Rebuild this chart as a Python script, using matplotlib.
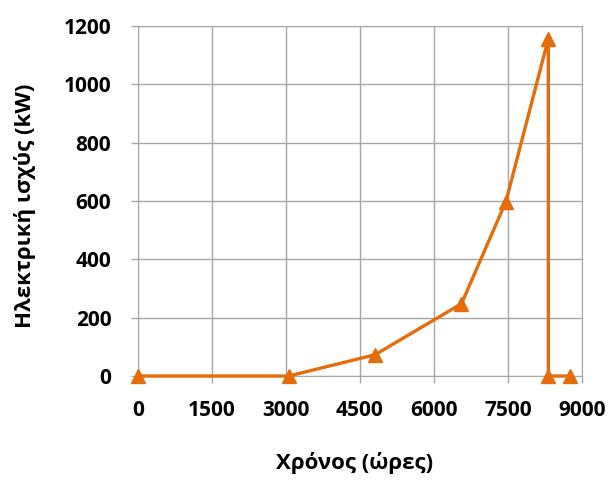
import matplotlib
matplotlib.use("Agg")
import matplotlib.pyplot as plt

# data
hours = [0, 3060, 4810, 6560, 7460, 8320, 8320, 8760]
power_kw = [0, 0, 73, 248, 598, 1157, 0, 0]
x_ticks = [0, 1500, 3000, 4500, 6000, 7500, 9000]
y_ticks = [0, 200, 400, 600, 800, 1000, 1200]

plt.rcParams['font.family'] = ['Open Sans', 'DejaVu Sans']
plt.rcParams['font.weight'] = 'bold'

fig = plt.figure(figsize=(6.11, 4.84), dpi=100)
ax = fig.add_axes([0.2254, 0.2231, 0.727, 0.7232])

ax.plot(hours, power_kw, color='#E46C0A', lw=2.4, marker='^', ms=10,
        clip_on=False, zorder=3)

ax.set_xlim(0, 9000)
ax.set_ylim(0, 1200)
ax.set_xticks(x_ticks)
ax.set_yticks(y_ticks)
ax.grid(True, color='#A6A6A6', lw=1)
for s in ax.spines.values():
    s.set_color('#A6A6A6')
ax.tick_params(colors='#A6A6A6', length=5, width=1, labelcolor='black',
               labelsize=15)
ax.tick_params(axis='x', pad=12)
ax.tick_params(axis='y', pad=14)
for lab in ax.get_xticklabels() + ax.get_yticklabels():
    lab.set_fontweight('bold')

fig.text(355/611, 1 - 463/484, 'Χρόνος (ώρες)', fontsize=16,
         fontweight='bold', ha='center', va='center')
fig.text(25/611, 1 - 206/484, 'Ηλεκτρική ισχύς (kW)', fontsize=16,
         fontweight='bold', ha='center', va='center', rotation=90)

fig.savefig('out.png', dpi=100)
